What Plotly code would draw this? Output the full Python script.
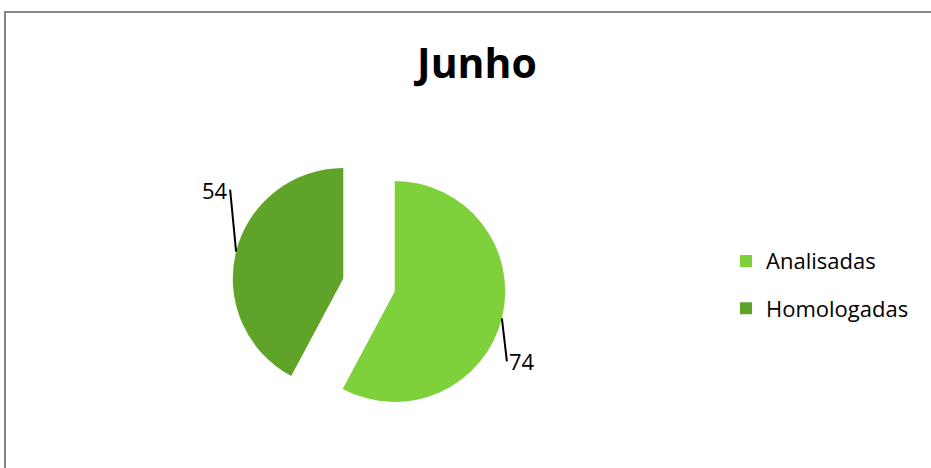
import math

import plotly.graph_objects as go

# data
labels = ["Analisadas", "Homologadas"]
values = [74, 54]
colors = ["#7FD13B", "#60A329"]
title_text = "Junho"

W, H = 931, 468
PULL = 0.24
# pie box (pixels, from top-left)
CX, CY, HALF = 369, 285, 137

fig = go.Figure(
    go.Pie(
        labels=['<span style="font-size:22px;baseline-shift:5px">' + l + "</span>" for l in labels],
        values=values,
        marker=dict(colors=colors, line=dict(width=0)),
        sort=False,
        direction="clockwise",
        rotation=0,
        pull=[PULL, PULL],
        textinfo="none",
        hovertext=labels,
        hoverinfo="text+value",
        domain=dict(
            x=[(CX - HALF) / W, (CX + HALF) / W],
            y=[1 - (CY + HALF) / H, 1 - (CY - HALF) / H],
        ),
    )
)

# value labels with leader lines, anchored on the middle of each slice's arc
r = HALF / (1 + PULL)
total = sum(values)
start = 0.0
offsets = [(5, 43, "left"), (-6, -62, "right")]
for v, (ax, ay, anchor) in zip(values, offsets):
    mid = (start + v / 2) / total * 2 * math.pi
    start += v
    px_ = CX + (1 + PULL) * r * math.sin(mid)
    py_ = CY - (1 + PULL) * r * math.cos(mid)
    fig.add_annotation(
        x=px_ / W, y=1 - py_ / H, xref="paper", yref="paper",
        text=str(v), showarrow=True, arrowhead=0, arrowwidth=2,
        arrowcolor="#000000", ax=ax, ay=ay, xanchor=anchor, yanchor="middle",
        font=dict(family="Open Sans", size=22, color="#000000"),
    )

# outer frame (runs off the right and bottom edges)
fig.add_shape(
    type="rect", xref="paper", yref="paper",
    x0=5 / W, x1=1.05, y0=-0.05, y1=1 - 12 / H,
    line=dict(color="#868686", width=2), fillcolor="rgba(0,0,0,0)",
)

fig.update_layout(
    width=W,
    height=H,
    margin=dict(l=0, r=0, t=0, b=0),
    paper_bgcolor="white",
    plot_bgcolor="white",
    font=dict(family="Open Sans", color="#000000"),
    title=dict(
        text="<b>" + title_text + "</b>",
        x=477 / W, xanchor="center",
        y=1 - 64 / H, yanchor="middle",
        font=dict(family="Open Sans", size=41, color="#000000"),
    ),
    showlegend=True,
    legend=dict(
        x=726 / W, xanchor="left",
        y=1 - 285 / H, yanchor="middle",
        # large legend font only sets the row spacing; labels use 22px spans
        font=dict(family="Open Sans", size=34, color="#000000"),
        bgcolor="rgba(0,0,0,0)",
        traceorder="normal",
    ),
)

fig.write_html(
    "out.html",
    config={"displayModeBar": False},
    post_script="document.body.style.margin='0';",
)
